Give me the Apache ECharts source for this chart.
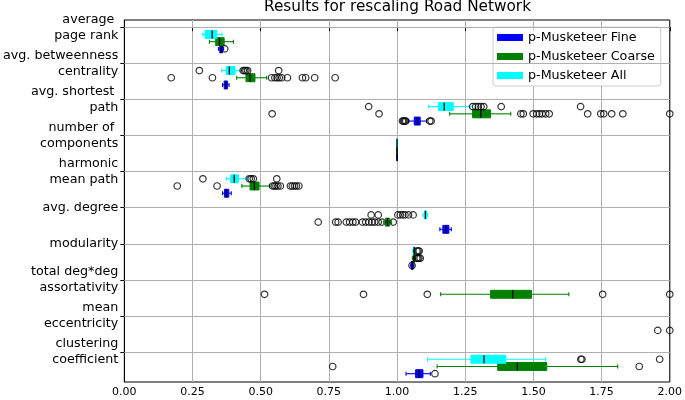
<!DOCTYPE html>
<html>
<head>
<meta charset="utf-8">
<script src="https://cdn.jsdelivr.net/npm/echarts@6/dist/echarts.min.js"></script>
<style>html,body{margin:0;padding:0;background:#fff}#c{width:685px;height:400px}</style>
</head>
<body>
<div id="c"></div>
<script>
// ---------- DATA ----------
const title = 'Results for rescaling Road Network';
const categories = [
  'average \npage rank',
  'avg. betweenness\ncentrality',
  'avg. shortest \npath',
  'number of \ncomponents',
  'harmonic\nmean path',
  'avg. degree',
  'modularity',
  'total deg*deg\nassortativity',
  'mean\neccentricity',
  'clustering\ncoefficient'
];
const seriesNames = ['p-Musketeer Fine', 'p-Musketeer Coarse', 'p-Musketeer All'];
const xTicks = [0, 0.25, 0.5, 0.75, 1.0, 1.25, 1.5, 1.75, 2.0];

// [whiskerLow, Q1, median, Q3, whiskerHigh] per category (null = off the plotted range)
const fineStats = [
  [0.345, 0.350, 0.355, 0.360, 0.364],
  [0.360, 0.366, 0.372, 0.378, 0.384],
  [1.042, 1.063, 1.075, 1.085, 1.108],
  [1, 1, 1, 1, 1],
  [0.360, 0.367, 0.374, 0.383, 0.392],
  [1.157, 1.168, 1.179, 1.190, 1.199],
  [1.050, 1.053, 1.056, 1.059, 1.062],
  null,
  null,
  [1.033, 1.068, 1.080, 1.095, 1.122]
];
const coarseStats = [
  [0.312, 0.335, 0.349, 0.366, 0.400],
  [0.412, 0.446, 0.461, 0.479, 0.522],
  [1.193, 1.277, 1.307, 1.343, 1.417],
  [1, 1, 1, 1, 1],
  [0.431, 0.461, 0.477, 0.494, 0.533],
  [0.951, 0.958, 0.965, 0.973, 0.980],
  [1.056, 1.059, 1.062, 1.065, 1.068],
  [1.160, 1.343, 1.424, 1.493, 1.630],
  null,
  [1.147, 1.369, 1.441, 1.549, 1.809]
];
const allStats = [
  [0.288, 0.296, 0.322, 0.339, 0.358],
  [0.357, 0.373, 0.385, 0.406, 0.424],
  [1.116, 1.151, 1.173, 1.206, 1.270],
  [1, 1, 1, 1, 1],
  [0.374, 0.390, 0.403, 0.418, 0.452],
  [1.095, 1.100, 1.104, 1.108, 1.112],
  [1.058, 1.060, 1.063, 1.066, 1.069],
  null,
  null,
  [1.112, 1.271, 1.319, 1.399, 1.545]
];

// outliers per category
const fineOutliers = [
  [0.368],
  [],
  [1.020, 1.024, 1.028, 1.032, 1.120, 1.125],
  [],
  [],
  [],
  [1.055],
  [],
  [],
  [1.139]
];
const coarseOutliers = [
  [],
  [0.172, 0.323, 0.540, 0.552, 0.560, 0.568, 0.577, 0.598, 0.653, 0.665, 0.698, 0.773],
  [0.542, 0.934, 1.454, 1.463, 1.499, 1.512, 1.522, 1.532, 1.545, 1.558, 1.699, 1.747, 1.758, 1.787, 1.828, 2.0],
  [],
  [0.194, 0.340, 0.544, 0.550, 0.556, 0.563, 0.572, 0.609, 0.616, 0.624, 0.631, 0.640],
  [0.711, 0.775, 0.784, 0.814, 0.826, 0.838, 0.848, 0.873, 0.885, 0.897, 0.908, 0.918, 0.931, 0.945, 0.986],
  [1.072, 1.076, 1.080, 1.085],
  [0.514, 0.877, 1.111, 1.754, 2.0],
  [1.956, 2.0],
  [0.764, 1.888]
];
const allOutliers = [
  [],
  [0.275, 0.436, 0.441, 0.446, 0.452, 0.566],
  [0.896, 1.277, 1.288, 1.298, 1.308, 1.318, 1.382, 1.673],
  [],
  [0.288, 0.458, 0.465, 0.473, 0.559],
  [0.905, 0.931, 1.003, 1.012, 1.021, 1.029, 1.042, 1.059],
  [1.073, 1.077, 1.081],
  [],
  [],
  [1.674, 1.678, 1.963]
];

// ---------- CHART ----------
const colors = ['#0000ff', '#008000', '#00ffff'];
const offsets = [0.6, 0.4, 0.2];   // vertical placement of each series within a category band
const boxH = 0.22;
const FONT = 'DejaVu Sans';

function boxData(stats) {
  const out = [];
  stats.forEach((s, i) => { if (s) out.push([i].concat(s)); });
  return out;
}
function outlierData(list, off) {
  const out = [];
  list.forEach((vals, i) => vals.forEach(v => out.push([v, i + off])));
  return out;
}
function makeRender(off, color) {
  return function (params, api) {
    const y = api.value(0) + off;
    const lo = api.coord([api.value(1), y]);
    const q1 = api.coord([api.value(2), y]);
    const md = api.coord([api.value(3), y]);
    const q3 = api.coord([api.value(4), y]);
    const hi = api.coord([api.value(5), y]);
    const h = Math.abs(api.size([0, boxH])[1]);
    const cy = lo[1];
    const ls = { stroke: color, lineWidth: 1.1 };
    return {
      type: 'group',
      children: [
        { type: 'line', shape: { x1: lo[0], y1: cy, x2: q1[0], y2: cy }, style: ls },
        { type: 'line', shape: { x1: q3[0], y1: cy, x2: hi[0], y2: cy }, style: ls },
        { type: 'line', shape: { x1: lo[0], y1: cy - h / 4, x2: lo[0], y2: cy + h / 4 }, style: ls },
        { type: 'line', shape: { x1: hi[0], y1: cy - h / 4, x2: hi[0], y2: cy + h / 4 }, style: ls },
        { type: 'rect', shape: { x: q1[0], y: cy - h / 2, width: Math.max(q3[0] - q1[0], 0.01), height: h },
          style: { fill: color, stroke: color, lineWidth: 1 } },
        { type: 'line', shape: { x1: md[0], y1: cy - h / 2, x2: md[0], y2: cy + h / 2 },
          style: { stroke: '#000', lineWidth: 1.3 } }
      ]
    };
  };
}

const statsList = [fineStats, coarseStats, allStats];
const outList = [fineOutliers, coarseOutliers, allOutliers];
const series = [];
// gridlines for the category ticks
series.push({
  type: 'scatter', data: [], silent: true, z: 1,
  markLine: {
    silent: true, symbol: 'none', animation: false,
    label: { show: false },
    lineStyle: { color: '#b0b0b0', width: 1, type: 'solid' },
    data: categories.map((c, i) => ({ yAxis: i }))
  }
});
statsList.forEach((st, k) => {
  series.push({
    name: seriesNames[k],
    type: 'custom',
    z: 3,
    itemStyle: { color: colors[k] },
    renderItem: makeRender(offsets[k], colors[k]),
    encode: { x: [1, 2, 3, 4, 5], y: 0 },
    data: boxData(st)
  });
});
outList.forEach((ol, k) => {
  series.push({
    type: 'scatter',
    z: 4,
    symbol: 'circle',
    symbolSize: 6.5,
    itemStyle: { color: 'rgba(0,0,0,0)', borderColor: '#000', borderWidth: 1.2 },
    emphasis: { disabled: true },
    data: outlierData(ol, offsets[k])
  });
});

const chart = echarts.init(document.getElementById('c'), null, { renderer: 'canvas' });
chart.setOption({
  animation: false,
  color: colors,
  textStyle: { fontFamily: FONT },
  title: {
    text: title, left: 397.5, textAlign: 'center', top: 0, padding: 0,
    textStyle: { fontFamily: FONT, fontSize: 15.3, fontWeight: 'normal', color: '#000' }
  },
  grid: { left: 124, right: 14, top: 20, bottom: 18, show: true, borderColor: '#000', borderWidth: 1, backgroundColor: 'transparent' },
  legend: {
    data: seriesNames, orient: 'vertical', left: 493, top: 27,
    icon: 'rect', itemWidth: 26, itemHeight: 7, itemGap: 4,
    padding: [3, 6, 3, 4],
    backgroundColor: 'rgba(255,255,255,0.85)', borderColor: '#cccccc', borderWidth: 1, borderRadius: 3,
    textStyle: { fontFamily: FONT, fontSize: 12.7, color: '#000', lineHeight: 15 },
    selectedMode: false
  },
  xAxis: {
    type: 'value', min: 0, max: 2, interval: 0.25,
    axisLine: { show: true, lineStyle: { color: '#000', width: 1 } },
    axisTick: { show: true, length: 4, lineStyle: { color: '#000' } },
    axisLabel: { fontFamily: FONT, fontSize: 11, color: '#000', margin: 5,
      formatter: v => (xTicks.indexOf(v) >= 0 ? v.toFixed(2) : '') },
    splitLine: { show: true, lineStyle: { color: '#b0b0b0', width: 1 } }
  },
  yAxis: {
    type: 'value', inverse: true, min: -0.2, max: 9.83,
    axisLine: { show: true, lineStyle: { color: '#000', width: 1 } },
    axisTick: { show: true, length: 4, lineStyle: { color: '#000' }, customValues: categories.map((c, i) => i) },
    axisLabel: { fontFamily: FONT, fontSize: 12.7, color: '#000', margin: 6, lineHeight: 16, align: 'right',
      customValues: categories.map((c, i) => i),
      formatter: v => categories[Math.round(v)] || '' },
    splitLine: { show: false }
  },
  series: series
});
</script>
</body>
</html>
